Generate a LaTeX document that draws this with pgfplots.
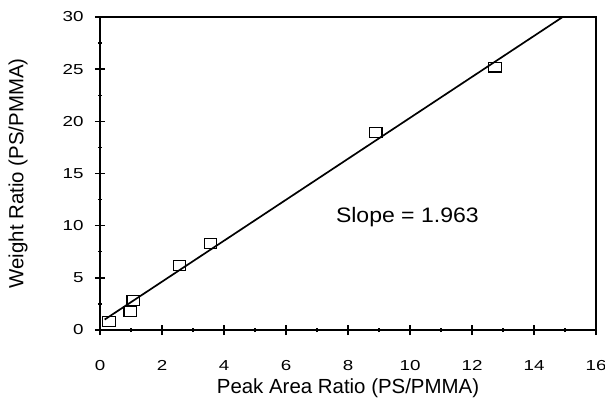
\documentclass[border=0pt]{standalone}
\usepackage{fontspec}
\setmainfont{Liberation Sans}
\newfontfamily\tickfont[FakeStretch=1.3]{Liberation Sans}
\newfontfamily\slopefont[FakeStretch=1.1]{Liberation Sans}
\usepackage{pgfplots}
\pgfplotsset{compat=1.18}
\begin{document}
\begin{tikzpicture}[x=1bp,y=1bp]
\useasboundingbox (-100,-74) rectangle (505,330);
\begin{axis}[
  at={(0,0)}, anchor=south west,
  scale only axis,
  width=496bp, height=313bp,
  xmin=0, xmax=16, ymin=0, ymax=30,
  xtick={0,2,...,16}, ytick={0,5,...,30},
  minor xtick={1,3,...,15}, minor ytick={2.5,7.5,...,27.5},
  xtick pos=left, ytick pos=left,
  tick align=center,
  major tick length=10bp, minor tick length=4bp,
  every major tick/.style={line width=1.4pt, black},
  every minor tick/.style={line width=1.4pt, black},
  axis line style={line width=1.6pt},
  /pgf/number format/assume math mode=true,
  ticklabel style={font=\tickfont\fontsize{14.5}{16}\selectfont},
  xticklabel style={anchor=north, yshift=-22bp},
  yticklabel style={anchor=east, xshift=-8bp},
  label style={font=\fontsize{20.5}{24}\selectfont},
  xlabel={Peak Area Ratio (PS/PMMA)},
  ylabel={Weight Ratio (PS/PMMA)},
  xlabel style={at={(axis description cs:0.5,-0.185)}, anchor=center},
  ylabel style={at={(axis description cs:-0.1653,0.5)}, anchor=center, rotate=0},
  clip=true,
]
\addplot[only marks, mark=square, mark size=5.6bp, mark options={line width=1.2pt, black, fill=white, xscale=1.1, yscale=0.88}] coordinates {
(0.29,0.8) (0.97,1.8) (1.07,2.8) (2.57,6.2) (3.57,8.3) (8.9,18.9) (12.74,25.2)
};
\addplot[line width=1.7pt, black] coordinates {(0.15,1.0) (14.95,30.05)};
\node[anchor=west, font=\slopefont\fontsize{21}{24}\selectfont] at (axis cs:7.5,10.8) {Slope = 1.963};
\end{axis}
\end{tikzpicture}
\end{document}
